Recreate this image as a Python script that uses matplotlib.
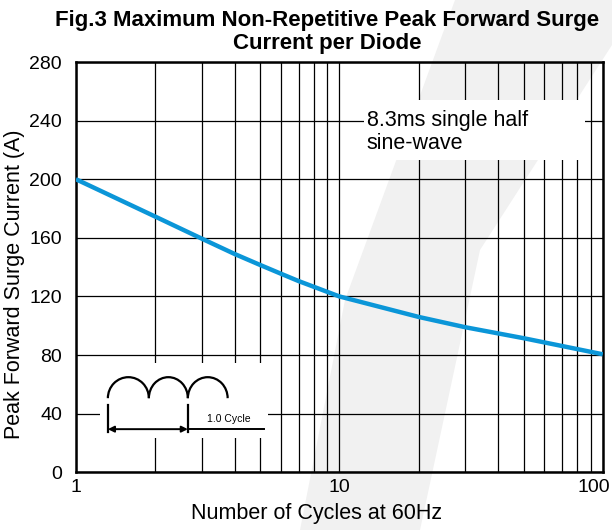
import numpy as np
import matplotlib.pyplot as plt
from matplotlib.patches import Arc, Rectangle, Polygon
from matplotlib.transforms import ScaledTranslation

plt.rcParams['font.family'] = ['Liberation Sans', 'DejaVu Sans']

# curva
ciclos = [1, 2, 3, 4, 5, 6, 7, 10, 20, 30, 50, 100]
corriente = [200, 174.5, 159.5, 149, 141.5, 135.5, 130.5, 120, 106, 99, 91.5, 80.5]

yticks = [0, 40, 80, 120, 160, 200, 240, 280]
xticks = [1, 10, 100]
xlabels = ['1', '10', '100']

fig = plt.figure(figsize=(6.12, 5.30), dpi=100)

# marca de agua gris claro de fondo (aprox.)
W, H = 612, 530
banda = [(455, 0), (612, 0), (612, 45), (480, 250), (420, 530), (300, 530), (345, 300)]
fig.patches.append(Polygon([(px / W, 1 - py / H) for px, py in banda], closed=True,
                           transform=fig.transFigure, facecolor='#f1f1f1',
                           edgecolor='none', zorder=-5))

ax = fig.add_axes([0.124, 0.109, 0.861, 0.774])
ax.set_facecolor('none')
ax.set_zorder(1)

ax.set_xscale('log')
ax.set_xlim(1, 100)
ax.set_ylim(0, 280)
ax.set_xticks(xticks)
ax.set_xticklabels(xlabels)
ax.set_yticks(yticks)
ax.tick_params(axis='both', which='both', length=0, labelsize=14)
ax.tick_params(axis='y', pad=10)
ax.tick_params(axis='x', pad=5)
ax.grid(True, which='both', color='black', lw=0.9)
for s in ax.spines.values():
    s.set_linewidth(1.8)

# la etiqueta 100 va algo a la izquierda
ult = ax.get_xticklabels()[-1]
ult.set_transform(ult.get_transform() + ScaledTranslation(-9 / 100, 0, fig.dpi_scale_trans))

ax.plot(ciclos, corriente, color='#0b96d8', lw=3.2, solid_capstyle='butt', zorder=5)

ax.set_xlabel('Number of Cycles at 60Hz', fontsize=15.5)
ax.set_ylabel('Peak Forward Surge Current (A)', fontsize=15.5)
ax.xaxis.set_label_coords(0.457, -0.075)
ax.yaxis.set_label_coords(-0.097, 0.4585)

fig.text(0.535, 1 - 10 / 530, 'Fig.3 Maximum Non-Repetitive Peak Forward Surge\nCurrent per Diode',
         fontsize=16, fontweight='bold', ha='center', va='top', linespacing=1.1, zorder=5)

# caja de texto
ax.add_patch(Rectangle((0.5465, 0.761), 0.42, 0.146, transform=ax.transAxes,
                       facecolor='white', edgecolor='none', zorder=3))
ax.text(0.552, 0.83, '8.3ms single half\nsine-wave', transform=ax.transAxes,
        fontsize=15.5, va='center', ha='left', linespacing=1.15, zorder=4)

# dibujo de ciclos
tr = ax.transAxes
ax.add_patch(Rectangle((0.0455, 0.083), 0.3185, 0.183, transform=tr,
                       facecolor='white', edgecolor='none', zorder=3))
x0, x1, x2, x3 = 0.0607, 0.1385, 0.2125, 0.288
yb, yt = 0.1805, 0.2317
for a, b in [(x0, x1), (x1, x2), (x2, x3)]:
    ax.add_patch(Arc(((a + b) / 2, yb), b - a, 2 * (yt - yb), theta1=0, theta2=180,
                     transform=tr, lw=1.6, color='black', zorder=4))
ax.plot([x0, x0], [0.0976, 0.163], transform=tr, color='black', lw=1.6, zorder=4)
ax.plot([x2, x2], [0.0976, 0.163], transform=tr, color='black', lw=1.6, zorder=4)
ax.plot([x2, 0.357], [0.105, 0.105], transform=tr, color='black', lw=1.4, zorder=4)
ax.annotate('', xy=(x0, 0.105), xytext=(x2, 0.105), xycoords=tr, textcoords=tr,
            arrowprops=dict(arrowstyle='<|-|>', color='black', lw=1.4,
                            mutation_scale=9, shrinkA=0, shrinkB=0), zorder=4)
ax.text(0.249, 0.118, '1.0 Cycle', transform=tr, fontsize=7.5, ha='left',
        va='bottom', zorder=4)

fig.savefig('out.png', dpi=100)
